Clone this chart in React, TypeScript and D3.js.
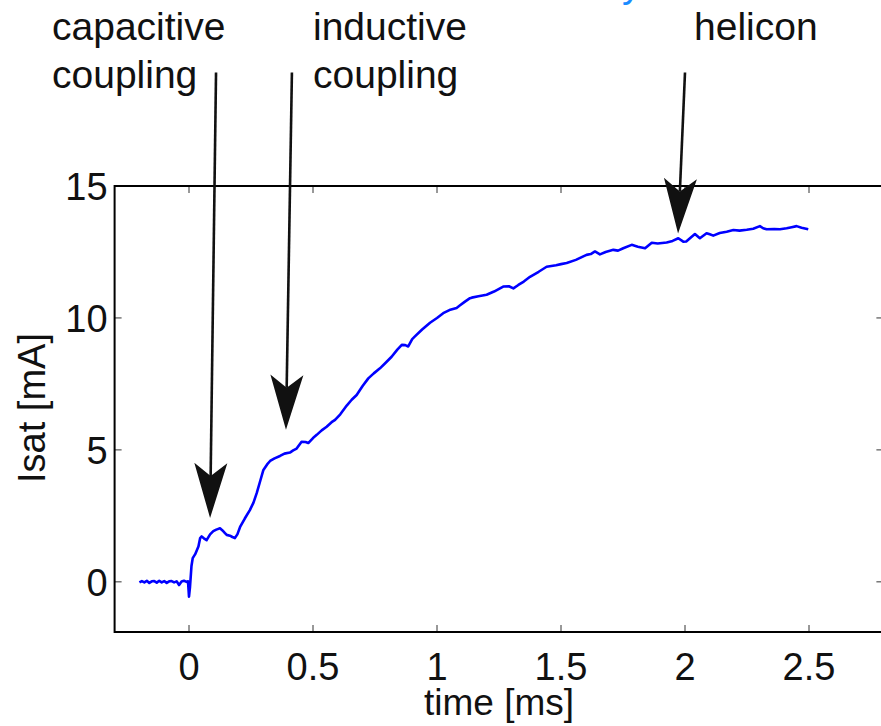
import React from "react";
import * as d3 from "d3";

const timeMs: number[] = [
  -0.2, -0.19, -0.18, -0.17, -0.16, -0.15, -0.14, -0.13, -0.12, -0.11, -0.1, -0.09, -0.08, -0.07, -0.06, -0.05,
  -0.04, -0.03, -0.02, -0.01, -0.004, 0.0, 0.004, 0.01, 0.015, 0.025, 0.038, 0.045, 0.051, 0.06, 0.071, 0.085,
  0.098, 0.11, 0.125, 0.135, 0.145, 0.152, 0.165, 0.175, 0.185, 0.195, 0.206, 0.225, 0.246, 0.26, 0.273, 0.288,
  0.3, 0.315, 0.327, 0.345, 0.367, 0.385, 0.407, 0.42, 0.434, 0.454, 0.47, 0.481, 0.5, 0.515, 0.535, 0.555,
  0.575, 0.589, 0.61, 0.636, 0.656, 0.676, 0.7, 0.723, 0.745, 0.77, 0.795, 0.817, 0.84, 0.858, 0.872, 0.884,
  0.9, 0.911, 0.94, 0.972, 1.0, 1.025, 1.05, 1.079, 1.093, 1.11, 1.133, 1.14, 1.167, 1.2, 1.23, 1.267,
  1.29, 1.308, 1.328, 1.35, 1.375, 1.41, 1.442, 1.48, 1.5, 1.523, 1.56, 1.603, 1.62, 1.637, 1.657, 1.68,
  1.711, 1.73, 1.751, 1.785, 1.81, 1.839, 1.866, 1.89, 1.926, 1.95, 1.973, 1.993, 2.005, 2.02, 2.04, 2.06,
  2.087, 2.1, 2.114, 2.14, 2.168, 2.195, 2.22, 2.249, 2.275, 2.302, 2.315, 2.329, 2.36, 2.383, 2.41, 2.43,
  2.45, 2.47, 2.497,
];

const isatMA: number[] = [
  -0.02, 0.03, -0.02, 0.04, -0.04, 0.02, 0.03, -0.03, 0.04, -0.02, 0.03, -0.04, 0.02, 0.03, -0.02, 0.02,
  -0.12, 0.01, 0.04, 0.0, 0.02, -0.56, -0.2, 0.6, 0.9, 1.05, 1.34, 1.66, 1.72, 1.65, 1.58, 1.8,
  1.92, 1.98, 2.03, 1.95, 1.85, 1.78, 1.75, 1.7, 1.66, 1.8, 2.08, 2.4, 2.73, 3.0, 3.36, 3.85,
  4.24, 4.45, 4.58, 4.68, 4.77, 4.86, 4.9, 4.98, 5.05, 5.31, 5.3, 5.26, 5.45, 5.57, 5.74, 5.88,
  6.05, 6.14, 6.35, 6.68, 6.9, 7.08, 7.42, 7.71, 7.9, 8.09, 8.32, 8.53, 8.8, 8.98, 8.97, 8.92,
  9.2, 9.3, 9.56, 9.82, 10.0, 10.18, 10.3, 10.38, 10.48, 10.6, 10.75, 10.77, 10.82, 10.88, 11.0, 11.19,
  11.2, 11.12, 11.25, 11.38, 11.56, 11.75, 11.94, 12.0, 12.04, 12.08, 12.2, 12.39, 12.42, 12.52, 12.41, 12.5,
  12.58, 12.55, 12.64, 12.77, 12.7, 12.64, 12.85, 12.82, 12.86, 12.92, 13.02, 12.89, 12.9, 13.02, 13.18, 13.02,
  13.21, 13.17, 13.12, 13.22, 13.27, 13.33, 13.31, 13.34, 13.38, 13.48, 13.4, 13.36, 13.37, 13.36, 13.4, 13.44,
  13.48, 13.42, 13.36,
];

const xTicks: number[] = [0, 0.5, 1, 1.5, 2, 2.5];
const yTicks: number[] = [0, 5, 10, 15];
const xTickLabels: string[] = ["0", "0.5", "1", "1.5", "2", "2.5"];
const yTickLabels: string[] = ["0", "5", "10", "15"];

const annotationLines: string[][] = [["capacitive", "coupling"], ["inductive", "coupling"], ["helicon"]];
// arrow tips (time, Isat) and arrow tails (time, Isat above the axes)
const arrowTip: [number, number][] = [[0.085, 2.42], [0.391, 5.76], [1.972, 13.2]];
const arrowTail: [number, number][] = [[0.109, 19.3], [0.415, 19.3], [2.0, 19.3]];

const W = 881;
const H = 726;
const FONT = "'Liberation Sans', Arial, Helvetica, sans-serif";

export default function App() {
  const x = d3.scaleLinear().domain([-0.3, 2.8]).range([114.6, 883.4]);
  const y = d3.scaleLinear().domain([-1.9, 15]).range([632, 186]);
  const pts: [number, number][] = timeMs.map((t, i) => [t, isatMA[i]]);
  const line = d3
    .line<[number, number]>()
    .x((d) => x(d[0]))
    .y((d) => y(d[1]));

  const [x0, x1] = x.range();
  const [yb, yt] = y.range();
  const tickLen = 7;

  const textPos: [number, number][] = [[52, 40], [313, 40], [694, 40]];

  const arrows = arrowTip.map((tip, i) => {
    const tx = x(tip[0]);
    const ty = y(tip[1]);
    const sx = x(arrowTail[i][0]);
    const sy = y(arrowTail[i][1]);
    const dx = tx - sx;
    const dy = ty - sy;
    const len = Math.hypot(dx, dy);
    const ux = dx / len;
    const uy = dy / len;
    const nx = -uy;
    const ny = ux;
    const L = 55;
    const hw = 16.5;
    const notch = 42;
    const c1 = [tx - ux * L + nx * hw, ty - uy * L + ny * hw];
    const c2 = [tx - ux * L - nx * hw, ty - uy * L - ny * hw];
    const nb = [tx - ux * notch, ty - uy * notch];
    return { sx, sy, tx, ty, c1, c2, nb };
  });

  return (
    <svg
      width={W}
      height={H}
      style={{ position: "absolute", left: 0, top: 0, background: "#fff" }}
      fontFamily={FONT}
    >
      <rect x={0} y={0} width={W} height={H} fill="#fff" />
      {/* cropped blue text at the very top */}
      <text x={622} y={-3} fontSize={39} fill="#1a8cff">y</text>

      {/* ticks */}
      {xTicks.map((t) => (
        <g key={"xt" + t} stroke="#333" strokeWidth={1}>
          <line x1={x(t)} x2={x(t)} y1={yb} y2={yb - tickLen} />
          <line x1={x(t)} x2={x(t)} y1={yt} y2={yt + tickLen} />
        </g>
      ))}
      {yTicks.map((v) => (
        <g key={"yt" + v} stroke="#333" strokeWidth={1}>
          <line x1={x0} x2={x0 + tickLen} y1={y(v)} y2={y(v)} />
          <line x1={x1} x2={x1 - tickLen} y1={y(v)} y2={y(v)} />
        </g>
      ))}

      {/* data */}
      <path d={line(pts) ?? ""} fill="none" stroke="#0000ff" strokeWidth={2.6} strokeLinejoin="round" />

      {/* axes box */}
      <rect x={x0} y={yt} width={x1 - x0} height={yb - yt} fill="none" stroke="#000" strokeWidth={2} />

      {/* tick labels */}
      {xTicks.map((t, i) => (
        <text key={"xl" + t} x={x(t)} y={680} fontSize={38} textAnchor="middle" fill="#111">
          {xTickLabels[i]}
        </text>
      ))}
      {yTicks.map((v, i) => (
        <text key={"yl" + v} x={x0 - 7} y={y(v) + 14} fontSize={38} textAnchor="end" fill="#111">
          {yTickLabels[i]}
        </text>
      ))}

      {/* axis labels */}
      <text x={499} y={715} fontSize={37} textAnchor="middle" fill="#111">time [ms]</text>
      <text transform="translate(45,408) rotate(-90)" fontSize={38} textAnchor="middle" fill="#111">
        Isat [mA]
      </text>

      {/* annotations */}
      {annotationLines.map((lines, i) => (
        <text key={"an" + i} x={textPos[i][0]} y={textPos[i][1]} fontSize={39} fill="#111">
          {lines.map((l, j) => (
            <tspan key={j} x={textPos[i][0]} dy={j === 0 ? 0 : 48}>
              {l}
            </tspan>
          ))}
        </text>
      ))}
      {arrows.map((a, i) => (
        <g key={"ar" + i}>
          <line x1={a.sx} y1={a.sy} x2={a.nb[0]} y2={a.nb[1]} stroke="#111" strokeWidth={2.6} />
          <path
            d={`M${a.tx},${a.ty}L${a.c1[0]},${a.c1[1]}L${a.nb[0]},${a.nb[1]}L${a.c2[0]},${a.c2[1]}Z`}
            fill="#111"
          />
        </g>
      ))}
    </svg>
  );
}
